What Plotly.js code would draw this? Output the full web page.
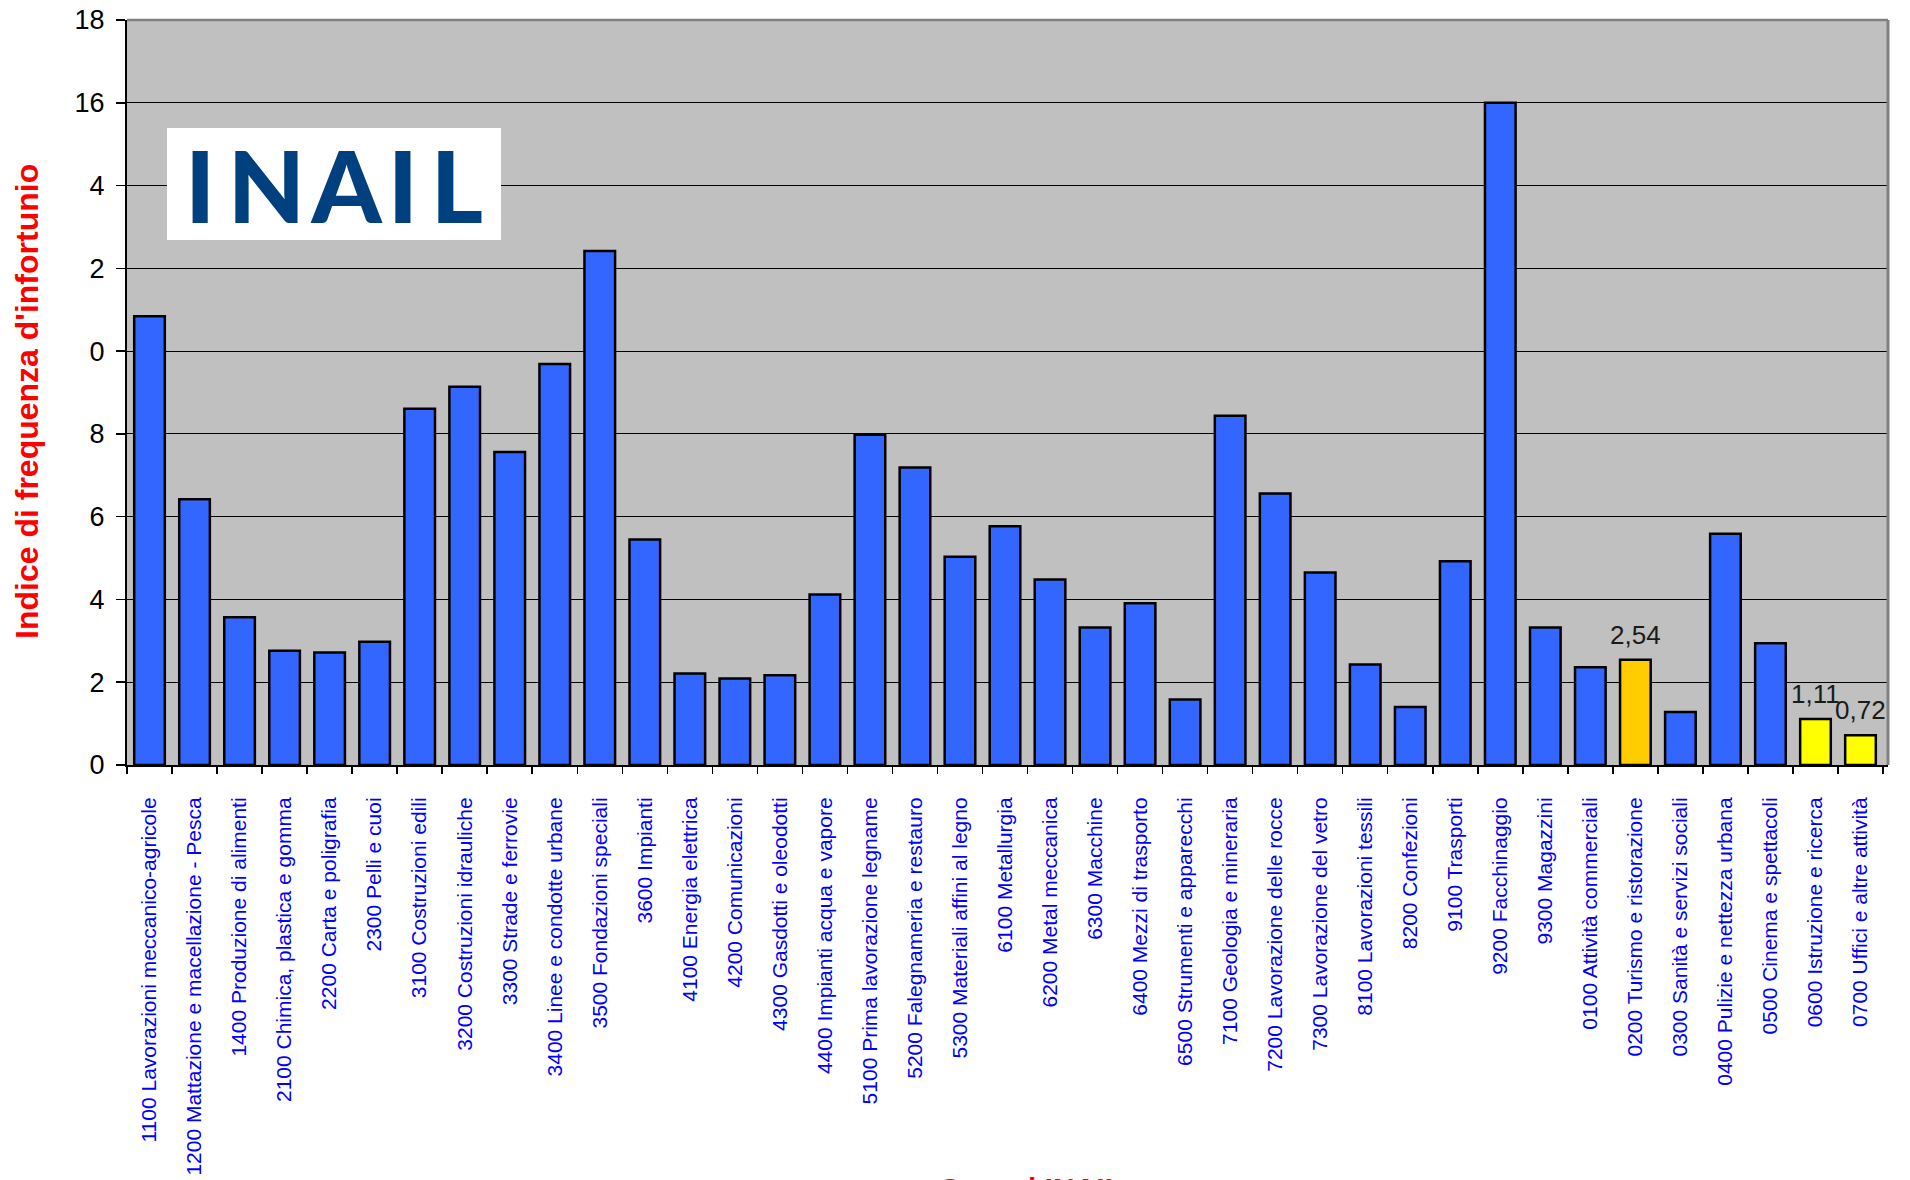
<!DOCTYPE html>
<html lang="it">
<head>
<meta charset="utf-8">
<title>Indice di frequenza d'infortunio per gruppo INAIL</title>
<script src="https://cdn.plot.ly/plotly-3.0.1.min.js"></script>
<style>
  html, body { margin: 0; padding: 0; background: #ffffff; overflow: hidden; }
  #grafico { width: 1910px; height: 1180px; }
</style>
</head>
<body>
<div id="grafico"></div>
<script>
// Gruppi di lavorazione INAIL (asse delle categorie)
const gruppi = [
  "1100 Lavorazioni meccanico-agricole",
  "1200 Mattazione e macellazione - Pesca",
  "1400 Produzione di alimenti",
  "2100 Chimica, plastica e gomma",
  "2200 Carta e poligrafia",
  "2300 Pelli e cuoi",
  "3100 Costruzioni edili",
  "3200 Costruzioni idrauliche",
  "3300 Strade e ferrovie",
  "3400 Linee e condotte urbane",
  "3500 Fondazioni speciali",
  "3600 Impianti",
  "4100 Energia elettrica",
  "4200 Comunicazioni",
  "4300 Gasdotti e oleodotti",
  "4400 Impianti acqua e vapore",
  "5100 Prima lavorazione legname",
  "5200 Falegnameria e restauro",
  "5300 Materiali affini al legno",
  "6100 Metallurgia",
  "6200 Metal meccanica",
  "6300 Macchine",
  "6400 Mezzi di trasporto",
  "6500 Strumenti e apparecchi",
  "7100 Geologia e mineraria",
  "7200 Lavorazione delle rocce",
  "7300 Lavorazione del vetro",
  "8100 Lavorazioni tessili",
  "8200 Confezioni",
  "9100 Trasporti",
  "9200 Facchinaggio",
  "9300 Magazzini",
  "0100 Attività commerciali",
  "0200 Turismo e ristorazione",
  "0300 Sanità e servizi sociali",
  "0400 Pulizie e nettezza urbana",
  "0500 Cinema e spettacoli",
  "0600 Istruzione e ricerca",
  "0700 Uffici e altre attività"
];

// Indice di frequenza d'infortunio per gruppo
const indice = [
  10.84, 6.42, 3.57, 2.76, 2.72, 2.98,
  8.61, 9.14, 7.56, 9.69, 12.42, 5.45,
  2.21, 2.09, 2.17, 4.12,
  7.98, 7.19, 5.03,
  5.77, 4.48, 3.32, 3.91, 1.58,
  8.44, 6.56, 4.65,
  2.43, 1.40,
  4.92, 16.0, 3.32,
  2.36, 2.54, 1.28, 5.59, 2.94, 1.11, 0.72
];

// Gruppo evidenziato e gruppi di confronto (con etichetta del valore)
const gruppoEvidenziato = ["0200 Turismo e ristorazione"];
const gruppiConfronto = ["0600 Istruzione e ricerca", "0700 Uffici e altre attività"];

// Tacche dell'asse verticale e relative etichette
const tacche = [0, 2, 4, 6, 8, 10, 12, 14, 16, 18];
const etichetteTacche = ["0", "2", "4", "6", "8", "0", "2", "4", "16", "18"];

const coloreBarre = gruppi.map(g =>
  gruppoEvidenziato.includes(g) ? "#FFCC00" :
  gruppiConfronto.includes(g) ? "#FFFF00" : "#3366FF");

const formatta = v => v.toFixed(2).replace(".", ",");

const etichetteValori = gruppi
  .map((g, i) => ({ g, v: indice[i] }))
  .filter(d => gruppoEvidenziato.includes(d.g) || gruppiConfronto.includes(d.g))
  .map(d => ({
    x: d.g, y: d.v, xref: "x", yref: "y",
    text: formatta(d.v),
    showarrow: false, yanchor: "bottom", yshift: 8,
    font: { family: "Liberation Sans, Arial, sans-serif", size: 26, color: "#1a1a1a" }
  }));

const barre = {
  type: "bar",
  x: gruppi,
  y: indice,
  marker: { color: coloreBarre, line: { color: "#000000", width: 2.5 } },
  hoverinfo: "x+y"
};

const layout = {
  width: 1910,
  height: 1180,
  margin: { l: 127, r: 22, t: 20, b: 415 },
  paper_bgcolor: "#ffffff",
  plot_bgcolor: "#C0C0C0",
  bargap: 0.32,
  showlegend: false,
  font: { family: "Liberation Sans, Arial, sans-serif", color: "#000000" },
  xaxis: {
    type: "category",
    tickangle: -90,
    tickfont: { family: "Liberation Sans, Arial, sans-serif", size: 21, color: "#0000FF" },
    ticks: "outside",
    tickson: "boundaries",
    ticklen: 7,
    tickwidth: 1.5,
    tickcolor: "#000000",
    ticklabelstandoff: 22,
    showline: true,
    linecolor: "#000000",
    linewidth: 2,
    showgrid: false,
    automargin: false,
    fixedrange: true
  },
  yaxis: {
    range: [0, 18],
    tickvals: tacche,
    ticktext: etichetteTacche,
    tickfont: { family: "Liberation Sans, Arial, sans-serif", size: 27, color: "#000000" },
    ticks: "outside",
    ticklen: 9,
    tickwidth: 1.5,
    tickcolor: "#000000",
    ticklabelstandoff: 6,
    showline: true,
    linecolor: "#000000",
    linewidth: 2,
    showgrid: true,
    gridcolor: "#000000",
    gridwidth: 1,
    zeroline: false,
    automargin: false,
    fixedrange: true
  },
  shapes: [
    // bordo superiore e destro dell'area del grafico
    { type: "line", xref: "paper", yref: "paper", x0: 0, x1: 1, y0: 1, y1: 1,
      line: { color: "#808080", width: 2.5 }, layer: "above" },
    { type: "line", xref: "paper", yref: "paper", x0: 1, x1: 1, y0: 0, y1: 1,
      line: { color: "#808080", width: 3 }, layer: "above" },
    // riquadro bianco del marchio
    { type: "rect", xref: "paper", yref: "paper", x0: 0.0227, x1: 0.2124, y0: 0.7047, y1: 0.855,
      fillcolor: "#ffffff", line: { width: 0 }, layer: "above" }
  ],
  annotations: [
    ...etichetteValori,
    {
      // titolo dell'asse verticale
      text: "Indice di frequenza d'infortunio",
      xref: "paper", yref: "paper", x: -0.0565, y: 0.488, xanchor: "center", yanchor: "middle",
      textangle: -90, showarrow: false,
      font: { family: "Liberation Sans, Arial, sans-serif", size: 32, color: "#FF0000", weight: "bold" }
    },
    {
      text: "I\u200A\u200AN\u200AA\u200AI\u200A\u200AL",
      xref: "paper", yref: "paper", x: 0.1175, y: 0.78, xanchor: "center", yanchor: "middle",
      showarrow: false,
      font: { family: "Lato, Roboto, Liberation Sans, sans-serif", size: 100, color: "#00407F", weight: 900 }
    },
    {
      // titolo dell'asse orizzontale
      text: "Gruppi INAIL",
      xref: "paper", yref: "paper", x: 0.513, y: -0.5436, xanchor: "center", yanchor: "top",
      showarrow: false,
      font: { family: "Liberation Sans, Arial, sans-serif", size: 30, color: "#FF0000", weight: "bold" }
    }
  ]
};

Plotly.newPlot("grafico", [barre], layout, { displayModeBar: false, staticPlot: true });
</script>
</body>
</html>
